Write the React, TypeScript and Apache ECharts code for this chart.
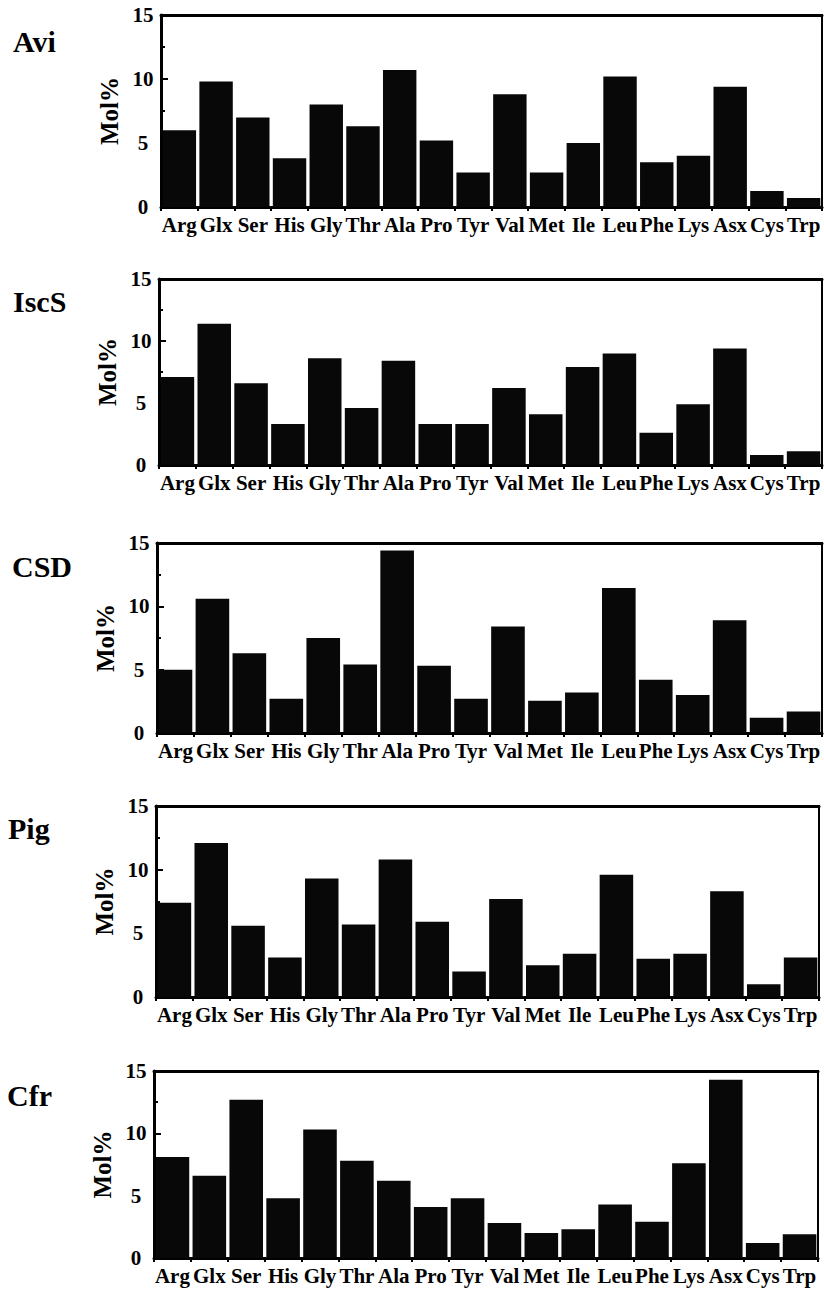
import React, { useEffect, useRef } from "react";
import * as echarts from "echarts";

const aminoAcids = ["Arg", "Glx", "Ser", "His", "Gly", "Thr", "Ala", "Pro", "Tyr", "Val", "Met", "Ile", "Leu", "Phe", "Lys", "Asx", "Cys", "Trp"];
const panelNames = ["Avi", "IscS", "CSD", "Pig", "Cfr"];
const yTicks = [0, 5, 10, 15];

const aviValues = [6.0, 9.8, 7.0, 3.8, 8.0, 6.3, 10.7, 5.2, 2.7, 8.8, 2.7, 5.0, 10.2, 3.5, 4.0, 9.4, 1.25, 0.7];
const iscsValues = [7.1, 11.4, 6.6, 3.3, 8.6, 4.6, 8.4, 3.3, 3.3, 6.2, 4.1, 7.9, 9.0, 2.6, 4.9, 9.4, 0.8, 1.1];
const csdValues = [5.0, 10.6, 6.3, 2.7, 7.5, 5.4, 14.4, 5.3, 2.7, 8.4, 2.55, 3.2, 11.45, 4.2, 3.0, 8.9, 1.2, 1.7];
const pigValues = [7.4, 12.1, 5.6, 3.1, 9.3, 5.7, 10.8, 5.9, 2.0, 7.7, 2.5, 3.4, 9.6, 3.0, 3.4, 8.3, 1.0, 3.1];
const cfrValues = [8.1, 6.6, 12.7, 4.8, 10.3, 7.8, 6.2, 4.1, 4.8, 2.8, 2.0, 2.3, 4.3, 2.9, 7.6, 14.3, 1.2, 1.9];

const allValues = [aviValues, iscsValues, csdValues, pigValues, cfrValues];

const FONT = "'Liberation Serif', 'Times New Roman', serif";

// layout of each panel
const grids = [
  { left: 161, top: 15, width: 661, height: 192 },
  { left: 159, top: 279, width: 663, height: 186 },
  { left: 157, top: 543, width: 665, height: 190 },
  { left: 156, top: 806, width: 663, height: 191 },
  { left: 154, top: 1071, width: 664, height: 187 },
];
const titlePos = [
  { left: 13, top: 26 },
  { left: 13, top: 286 },
  { left: 12, top: 551 },
  { left: 8, top: 813 },
  { left: 7, top: 1080 },
];

export default function App() {
  const ref = useRef<HTMLDivElement>(null);
  useEffect(() => {
    if (!ref.current) return;
    const chart = echarts.init(ref.current, undefined, { renderer: "svg" });
    const xAxes: any[] = [];
    const yAxes: any[] = [];
    const series: any[] = [];
    grids.forEach((g, i) => {
      xAxes.push({
        type: "category",
        gridIndex: i,
        data: aminoAcids,
        position: "bottom",
        axisLine: { lineStyle: { color: "#000", width: 3 } },
        axisTick: { show: true, length: 4, lineStyle: { color: "#000", width: 2 } },
        axisLabel: {
          color: "#000",
          fontFamily: FONT,
          fontWeight: "bold",
          fontSize: 21,
          margin: 7,
          interval: 0,
        },
        splitLine: { show: false },
      });
      xAxes.push({
        type: "category",
        gridIndex: i,
        data: aminoAcids,
        position: "top",
        axisLine: { lineStyle: { color: "#000", width: 3 } },
        axisTick: { show: false },
        axisLabel: { show: false },
        splitLine: { show: false },
      });
      yAxes.push({
        type: "value",
        gridIndex: i,
        min: 0,
        max: 15,
        interval: 5,
        name: "Mol%",
        nameLocation: "middle",
        nameRotate: 90,
        nameGap: 37,
        nameTextStyle: { color: "#000", fontFamily: FONT, fontWeight: "bold", fontSize: 25 },
        axisLine: { show: true, lineStyle: { color: "#000", width: 3 } },
        axisTick: { show: true, inside: true, length: 7, lineStyle: { color: "#000", width: 2 } },
        minorTick: { show: true, splitNumber: 2, length: 4, lineStyle: { color: "#000", width: 2 } },
        axisLabel: {
          color: "#000",
          fontFamily: FONT,
          fontWeight: "bold",
          fontSize: 21,
          align: "center",
          margin: 18,
          formatter: (v: number) => (yTicks.includes(v) ? String(v) : ""),
        },
        splitLine: { show: false },
      });
      series.push({
        type: "bar",
        xAxisIndex: i * 2,
        yAxisIndex: i,
        data: allValues[i],
        barCategoryGap: "9%",
        itemStyle: { color: "#080808" },
      });
    });
    chart.setOption({
      animation: false,
      backgroundColor: "#fff",
      title: panelNames.map((n, i) => ({
        text: n,
        left: titlePos[i].left,
        top: titlePos[i].top,
        padding: 0,
        textStyle: { color: "#000", fontFamily: FONT, fontWeight: "bold", fontSize: 30 },
      })),
      grid: grids.map((g) => ({
        ...g,
        show: true,
        borderColor: "#000",
        borderWidth: 2,
        backgroundColor: "transparent",
      })),
      xAxis: xAxes,
      yAxis: yAxes,
      series,
    });
    return () => chart.dispose();
  }, []);
  return (
    <div
      ref={ref}
      style={{ position: "absolute", left: 0, top: 0, width: 824, height: 1292, background: "#fff" }}
    />
  );
}
